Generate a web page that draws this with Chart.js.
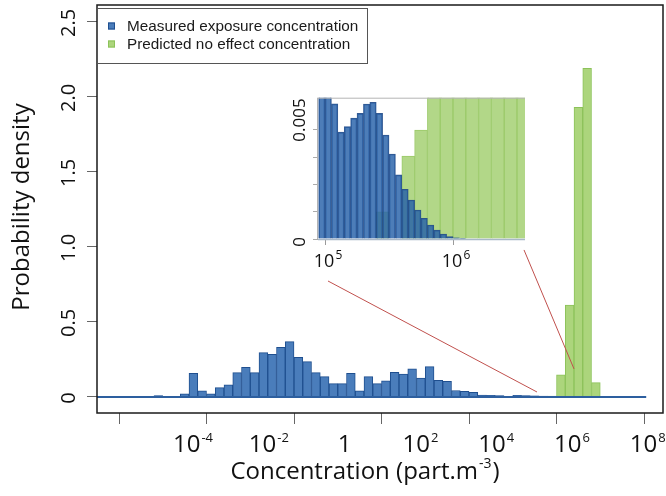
<!DOCTYPE html>
<html>
<head>
<meta charset="utf-8">
<script src="https://cdn.jsdelivr.net/npm/chart.js@4.4.1/dist/chart.umd.min.js"></script>
<style>
  html, body { margin: 0; padding: 0; background: #ffffff; }
  #wrap { position: relative; width: 666px; height: 496px; overflow: hidden; }
  #main { position: absolute; left: 0; top: 0; }
  #inset { position: absolute; left: 280px; top: 88px; }
</style>
</head>
<body>
<div id="wrap">
  <canvas id="main" width="666" height="496"></canvas>
  <canvas id="inset" width="255" height="185"></canvas>
</div>
<script>
// ------------------------------------------------------------------
// DATA  (x values are log10 of concentration, part.m-3)
// ------------------------------------------------------------------
const seriesNames = ['Measured exposure concentration', 'Predicted no effect concentration'];

// main panel – histogram bins (lower edges), bin width 0.2 decade
const mainBinWidth = 0.2;
const measuredEdges = [-3.2, -3.0, -2.8, -2.6, -2.4, -2.2, -2.0, -1.8, -1.6, -1.4, -1.2, -1.0, -0.8, -0.6, -0.4, -0.2,
  0.0, 0.2, 0.4, 0.6, 0.8, 1.0, 1.2, 1.4, 1.6, 1.8, 2.0, 2.2, 2.4, 2.6, 2.8, 3.0, 3.2, 3.4, 3.6, 3.8,
  4.0, 4.2, 4.4, 4.6, 4.8, 5.0, 5.2, 5.4, 5.6];
const measuredDensity = [0.009, 0, 0, 0.02, 0.158, 0.04, 0.02, 0.062, 0.08, 0.162, 0.198, 0.162, 0.296, 0.284, 0.331, 0.369,
  0.264, 0.236, 0.162, 0.136, 0.089, 0.089, 0.157, 0.04, 0.136, 0.089, 0.107, 0.164, 0.152, 0.187, 0.126, 0.202, 0.11, 0.104, 0.043, 0.038,
  0.03, 0.013, 0.011, 0.009, 0.004, 0.011, 0.009, 0.007, 0.005];
const pnecEdges = [5.6, 5.8, 6.0, 6.2, 6.4, 6.6, 6.8];
const pnecDensity = [0.003, 0.006, 0.147, 0.613, 1.93, 2.19, 0.096];
const baselineX = [-4.6, 8.05];

// main axes
const mainXRange = [-4.503, 8.434];
const mainXTicks = [-4, -2, 0, 2, 4, 6, 8];
const mainXLabelRange = [-6.533, 8.401];          // where the printed labels sit
const mainXLabels = [['10', '-4'], ['10', '-2'], ['1', ''], ['10', '2'], ['10', '4'], ['10', '6'], ['10', '8']];
const mainYRange = [-0.107, 2.613];
const mainYTicks = [0, 0.5, 1.0, 1.5, 2.0, 2.5];
const mainYLabels = ['0', '0.5', '1.0', '1.5', '2.0', '2.5'];

// zoom connectors (main-panel data coordinates)
const connectorFrom = [[0.777, 0.773], [5.257, 0.98]];
const connectorTo   = [[5.554, 0.033], [6.40, 0.187]];

// inset – zoom on 1e5 .. 3.6e6
const insetMeasuredWidth = 0.05;
const insetMeasuredEdges = [4.95, 5.00, 5.05, 5.10, 5.15, 5.20, 5.25, 5.30, 5.35, 5.40, 5.45, 5.50, 5.55, 5.60,
  5.65, 5.70, 5.75, 5.80, 5.85, 5.90, 5.95, 6.00, 6.05];
const insetMeasuredDensity = [0.0072, 0.0068, 0.0062, 0.0049, 0.00515, 0.00554, 0.00576, 0.00619, 0.00627, 0.00576,
  0.00477, 0.0039, 0.00294, 0.00228, 0.00179, 0.00133, 0.00095, 0.00064, 0.00041, 0.00023, 0.00011, 0.00005, 0.00002];
const insetPnecWidth = 0.1;
const insetPnecEdges = [5.4, 5.5, 5.6, 5.7, 5.8, 5.9, 6.0, 6.1, 6.2, 6.3, 6.4, 6.5];
const insetPnecDensity = [0.00125, 0, 0.0038, 0.005, 0.009, 0.02, 0.05, 0.1, 0.3, 0.6, 1.2, 1.8];
const insetXRange = [4.945, 6.5625];
const insetXTicks = [5, 6];
const insetXLabels = [['10', '5'], ['10', '6']];
const insetYRange = [0, 0.00648];
const insetYTicks = [0, 0.00125, 0.0025, 0.00375, 0.005];
const insetYLabels = ['0', '', '', '', '0.005'];

// ------------------------------------------------------------------
const FONT = "'Open Sans', sans-serif";
const LEGEND_FONT = "'Liberation Sans', Arial, sans-serif";
Chart.defaults.font.family = FONT;

function toBars(edges, values, width) {
  return edges.map((e, i) => ({ x: e + width / 2, y: values[i] }));
}

function drawPow(ctx, base, exp, cx, baseline, size, supSize, rise) {
  ctx.font = size + 'px ' + FONT;
  const wb = ctx.measureText(base).width;
  let we = 0;
  if (exp) { ctx.font = supSize + 'px ' + FONT; we = ctx.measureText(exp).width + 1; }
  const x0 = cx - (wb + we) / 2;
  ctx.textAlign = 'left';
  ctx.textBaseline = 'alphabetic';
  ctx.font = size + 'px ' + FONT;
  ctx.fillText(base, x0, baseline);
  if (exp) {
    ctx.font = supSize + 'px ' + FONT;
    ctx.fillText(exp, x0 + wb + 1, baseline - rise);
  }
}

function rotatedText(ctx, text, cx, cy, font) {
  ctx.save();
  ctx.translate(cx, cy);
  ctx.rotate(-Math.PI / 2);
  ctx.font = font;
  ctx.textAlign = 'center';
  ctx.textBaseline = 'middle';
  ctx.fillText(text, 0, 0);
  ctx.restore();
}

const setTicks = (vals) => (s) => { s.ticks = vals.map(v => ({ value: v })); };

// ------------------------------------------------------------------
// MAIN CHART
// ------------------------------------------------------------------
const mainDecor = {
  id: 'mainDecor',
  afterDatasetsDraw(chart) {
    const ctx = chart.ctx, xs = chart.scales.x, ys = chart.scales.y;
    ctx.save();
    ctx.strokeStyle = '#c0504d';
    ctx.lineWidth = 1;
    connectorFrom.forEach((p, i) => {
      const q = connectorTo[i];
      ctx.beginPath();
      ctx.moveTo(xs.getPixelForValue(p[0]), ys.getPixelForValue(p[1]));
      ctx.lineTo(xs.getPixelForValue(q[0]), ys.getPixelForValue(q[1]));
      ctx.stroke();
    });
    ctx.restore();
  },
  afterDraw(chart) {
    const ctx = chart.ctx, a = chart.chartArea;
    const ys = chart.scales.y, xl = chart.scales.xl;
    ctx.save();
    // frame
    ctx.strokeStyle = '#1a1a1a';
    ctx.lineWidth = 1.5;
    ctx.strokeRect(a.left, a.top, a.right - a.left, a.bottom - a.top);

    ctx.fillStyle = '#111111';
    // y tick labels (parallel to axis)
    mainYTicks.forEach((v, i) => {
      rotatedText(ctx, mainYLabels[i], 69, ys.getPixelForValue(v) + 1, '20px ' + FONT);
    });
    // x tick labels
    mainXTicks.forEach((v, i) => {
      const [b, e] = mainXLabels[i];
      drawPow(ctx, b, e, xl.getPixelForValue(v), 452, 24, 13, 10);
    });
    // axis titles
    ctx.font = '24px ' + FONT;
    const t1 = 'Concentration (part.m', t2 = '-3', t3 = ')';
    const w1 = ctx.measureText(t1).width, w3 = ctx.measureText(t3).width;
    ctx.font = '14px ' + FONT;
    const w2 = ctx.measureText(t2).width;
    let x0 = 365 - (w1 + w2 + w3 + 2) / 2;
    ctx.textAlign = 'left'; ctx.textBaseline = 'alphabetic';
    ctx.font = '24px ' + FONT; ctx.fillText(t1, x0, 479);
    ctx.font = '14px ' + FONT; ctx.fillText(t2, x0 + w1 + 1, 468);
    ctx.font = '24px ' + FONT; ctx.fillText(t3, x0 + w1 + w2 + 2, 479);
    rotatedText(ctx, 'Probability density', 22, 207, '24px ' + FONT);

    // legend
    ctx.fillStyle = '#ffffff';
    ctx.fillRect(97, 8, 270, 55);
    ctx.strokeStyle = '#555555';
    ctx.lineWidth = 1;
    ctx.strokeRect(97.5, 8.5, 270, 55);
    const rows = [26, 44];
    chart.data.datasets.slice(0, 2).forEach((ds, i) => {
      ctx.fillStyle = ds.backgroundColor;
      ctx.fillRect(108, rows[i] - 3.5, 7, 7);
      ctx.strokeStyle = ds.borderColor;
      ctx.strokeRect(108.5, rows[i] - 3, 6, 6);
      ctx.fillStyle = '#1a1a1a';
      ctx.font = '15.3px ' + LEGEND_FONT;
      ctx.textAlign = 'left';
      ctx.textBaseline = 'middle';
      ctx.fillText(ds.label, 127, rows[i] + 1);
    });
    ctx.restore();
  }
};

new Chart(document.getElementById('main'), {
  type: 'bar',
  data: {
    datasets: [
      {
        label: seriesNames[0],
        data: toBars(measuredEdges, measuredDensity, mainBinWidth),
        xAxisID: 'x', yAxisID: 'y',
        backgroundColor: '#4a7dbb', borderColor: '#1f4f8f', borderWidth: 1,
        barPercentage: 1, categoryPercentage: 1, grouped: false, order: 1, clip: 0
      },
      {
        label: seriesNames[1],
        data: toBars(pnecEdges, pnecDensity, mainBinWidth),
        xAxisID: 'x2', yAxisID: 'y',
        backgroundColor: '#acd57c', borderColor: '#8cc25a', borderWidth: 1,
        barPercentage: 1, categoryPercentage: 1, grouped: false, order: 2, clip: 0
      },
      {
        type: 'line',
        label: 'baseline',
        data: baselineX.map(x => ({ x: x, y: 0 })),
        xAxisID: 'x', yAxisID: 'y',
        borderColor: '#2d5f9f', borderWidth: 2, pointRadius: 0, order: 0, clip: 0
      }
    ]
  },
  options: {
    responsive: false,
    animation: false,
    events: [],
    layout: { padding: { left: 0, top: 5, right: 3, bottom: 0 } },
    plugins: { legend: { display: false }, tooltip: { enabled: false } },
    scales: {
      x: {
        type: 'linear', min: mainXRange[0], max: mainXRange[1], offset: false, position: 'bottom',
        grid: { drawOnChartArea: false, drawTicks: true, tickLength: 11, color: '#666666', lineWidth: 1, offset: false },
        border: { display: false },
        ticks: { display: false },
        afterBuildTicks: setTicks(mainXTicks),
        afterFit: (s) => { s.height = 83; }
      },
      x2: { type: 'linear', min: mainXRange[0], max: mainXRange[1], offset: false, display: false, grid: { offset: false } },
      xl: { type: 'linear', min: mainXLabelRange[0], max: mainXLabelRange[1], offset: false, display: false, grid: { offset: false } },
      y: {
        type: 'linear', min: mainYRange[0], max: mainYRange[1], position: 'left',
        grid: { drawOnChartArea: false, drawTicks: true, tickLength: 10, color: '#666666', lineWidth: 1 },
        border: { display: false },
        ticks: { display: false },
        afterBuildTicks: setTicks(mainYTicks),
        afterFit: (s) => { s.width = 97; }
      }
    }
  },
  plugins: [mainDecor]
});

// ------------------------------------------------------------------
// INSET CHART
// ------------------------------------------------------------------
const insetDecor = {
  id: 'insetDecor',
  afterDraw(chart) {
    const ctx = chart.ctx, a = chart.chartArea;
    const xs = chart.scales.x, ys = chart.scales.y;
    ctx.save();
    ctx.strokeStyle = '#b4b4b4';
    ctx.lineWidth = 1;
    ctx.beginPath();
    ctx.moveTo(a.left, a.top + 0.5); ctx.lineTo(a.right, a.top + 0.5);
    ctx.moveTo(a.left - 0.5, a.top); ctx.lineTo(a.left - 0.5, a.bottom);
    ctx.stroke();
    ctx.strokeStyle = '#a9b8c8';
    ctx.lineWidth = 1.5;
    ctx.beginPath();
    ctx.moveTo(a.left, a.bottom + 0.5); ctx.lineTo(a.right, a.bottom + 0.5);
    ctx.stroke();

    ctx.fillStyle = '#111111';
    insetYTicks.forEach((v, i) => {
      if (insetYLabels[i]) rotatedText(ctx, insetYLabels[i], 20, ys.getPixelForValue(v) + (v > 0 ? -10 : 3), '17px ' + FONT);
    });
    insetXTicks.forEach((v, i) => {
      const [b, e] = insetXLabels[i];
      drawPow(ctx, b, e, xs.getPixelForValue(v) + 3, 179, 18, 12, 8);
    });
    ctx.restore();
  }
};

new Chart(document.getElementById('inset'), {
  type: 'bar',
  data: {
    datasets: [
      {
        label: seriesNames[0],
        data: toBars(insetMeasuredEdges, insetMeasuredDensity, insetMeasuredWidth),
        xAxisID: 'x', yAxisID: 'y',
        backgroundColor: 'rgba(38,96,168,0.82)', borderColor: 'rgba(30,72,135,0.9)', borderWidth: 1,
        barPercentage: 1, categoryPercentage: 1, grouped: false, order: 0, clip: 0
      },
      {
        label: seriesNames[1],
        data: toBars(insetPnecEdges, insetPnecDensity, insetPnecWidth),
        xAxisID: 'x2', yAxisID: 'y',
        backgroundColor: '#b2d788', borderColor: '#9bca69', borderWidth: 1,
        barPercentage: 1, categoryPercentage: 1, grouped: false, order: 1, clip: 0
      }
    ]
  },
  options: {
    responsive: false,
    animation: false,
    events: [],
    layout: { padding: { left: 0, top: 9.7, right: 10, bottom: 0 } },
    plugins: { legend: { display: false }, tooltip: { enabled: false } },
    scales: {
      x: {
        type: 'linear', min: insetXRange[0], max: insetXRange[1], offset: false, position: 'bottom',
        grid: { drawOnChartArea: false, drawTicks: true, tickLength: 6, color: '#9a9a9a', offset: false },
        border: { display: false },
        ticks: { display: false },
        afterBuildTicks: setTicks(insetXTicks),
        afterFit: (s) => { s.height = 34; }
      },
      x2: { type: 'linear', min: insetXRange[0], max: insetXRange[1], offset: false, display: false, grid: { offset: false } },
      y: {
        type: 'linear', min: insetYRange[0], max: insetYRange[1], position: 'left',
        grid: { drawOnChartArea: false, drawTicks: true, tickLength: 5, color: '#aaaaaa' },
        border: { display: false },
        ticks: { display: false },
        afterBuildTicks: setTicks(insetYTicks),
        afterFit: (s) => { s.width = 38; }
      }
    }
  },
  plugins: [insetDecor]
});
</script>
</body>
</html>
